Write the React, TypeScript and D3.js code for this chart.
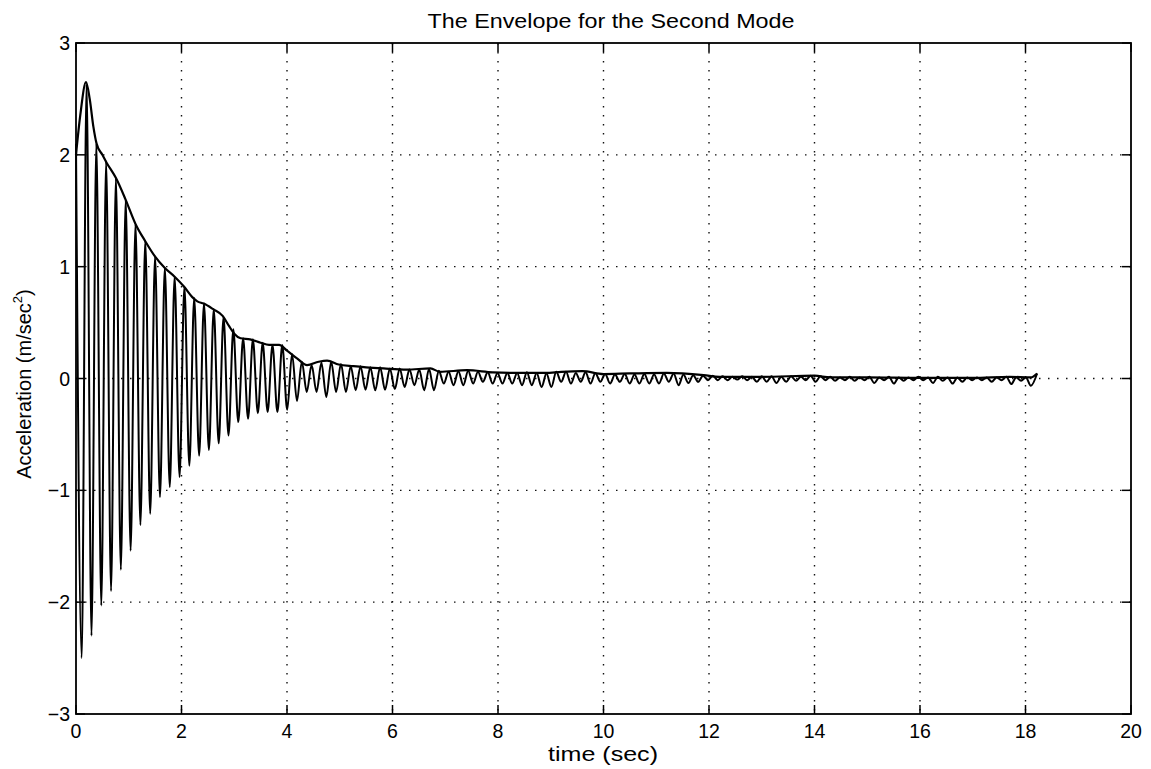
import React from 'react';
import * as d3 from 'd3';

// ---- data ----
const xTicks = [0, 2, 4, 6, 8, 10, 12, 14, 16, 18, 20];
const yTicks = [-3, -2, -1, 0, 1, 2, 3];

// sampled extrema of the oscillating response (uniform spacing in time)
const startPoint = [0, 2.1];
const firstTroughTime = 0.108;
const firstPeakTime = 0.2;
const cyclePeriod = 0.1855;
const endPoint = [18.22, 0.045];

const troughValues = [
  -2.5, -2.3, -2.03, -1.9, -1.71, -1.54, -1.31, -1.21, -1.06, -0.97,
  -0.88, -0.78, -0.69, -0.64, -0.58, -0.51, -0.39, -0.36, -0.31, -0.3,
  -0.3, -0.28, -0.2, -0.12, -0.12, -0.165, -0.12, -0.12, -0.105, -0.1,
  -0.105, -0.1, -0.095, -0.075, -0.06, -0.105, -0.105, -0.045, -0.06, -0.06,
  -0.045, -0.03, -0.045, -0.045, -0.045, -0.06, -0.06, -0.075, -0.075, -0.03,
  -0.045, -0.03, -0.045, -0.03, -0.045, -0.03, -0.045, -0.045, -0.045, -0.045,
  -0.03, -0.06, -0.04, -0.03, -0.015, -0.015, -0.015, -0.01, -0.015, -0.03,
  -0.03, -0.04, -0.03, -0.02, -0.015, -0.03, -0.015, -0.02, -0.015, -0.02,
  -0.015, -0.04, -0.015, -0.045, -0.02, -0.015, -0.015, -0.04, -0.02, -0.045,
  -0.03, -0.015, -0.015, -0.03, -0.015, -0.05, -0.02, -0.065,
];

const peakValues = [
  2.63, 2.1, 1.94, 1.79, 1.6, 1.38, 1.23, 1.09, 0.99, 0.91,
  0.82, 0.72, 0.67, 0.62, 0.55, 0.44, 0.36, 0.35, 0.32, 0.3,
  0.3, 0.22, 0.15, 0.12, 0.14, 0.15, 0.13, 0.11, 0.11, 0.1,
  0.1, 0.09, 0.09, 0.08, 0.08, 0.085, 0.07, 0.06, 0.065, 0.07,
  0.06, 0.055, 0.05, 0.05, 0.05, 0.055, 0.05, 0.045, 0.06, 0.06,
  0.05, 0.055, 0.05, 0.04, 0.035, 0.04, 0.035, 0.04, 0.035, 0.045,
  0.045, 0.035, 0.03, 0.025, 0.025, 0.02, 0.015, 0.02, 0.015, 0.02,
  0.02, 0.015, 0.02, 0.015, 0.025, 0.02, 0.015, 0.01, 0.015, 0.01,
  0.015, 0.01, 0.015, 0.01, 0.01, 0.015, 0.01, 0.015, 0.01, 0.01,
  0.01, 0.01, 0.01, 0.01, 0.015, 0.01, 0.01,
];

// upper envelope
const envelopeTimes = [
  0, 0.08, 0.19, 0.26, 0.33, 0.39, 0.5, 0.58, 0.76, 0.94,
  1.13, 1.31, 1.5, 1.68, 1.87, 2.05, 2.2, 2.3, 2.42, 2.6,
  2.78, 2.9, 3.0, 3.12, 3.3, 3.5, 3.66, 3.85, 4.0, 4.19,
  4.38, 4.6, 4.76, 4.98, 5.26, 5.5, 5.83, 6.27, 6.72, 6.9,
  7.41, 7.9, 8.3, 8.9, 9.2, 9.6, 10.0, 10.5, 11.2, 11.9,
  12.2, 13.0, 14.0, 14.3, 15.0, 16.0, 17.0, 17.7, 18.1, 18.22,
];
const envelopeValues = [
  2.0, 2.35, 2.65, 2.5, 2.25, 2.1, 2.0, 1.93, 1.79, 1.6,
  1.38, 1.23, 1.09, 0.99, 0.91, 0.82, 0.73, 0.69, 0.67, 0.62,
  0.56, 0.47, 0.4, 0.36, 0.35, 0.32, 0.3, 0.3, 0.25, 0.18,
  0.12, 0.15, 0.16, 0.125, 0.11, 0.1, 0.09, 0.08, 0.09, 0.06,
  0.074, 0.055, 0.05, 0.05, 0.06, 0.066, 0.04, 0.045, 0.05, 0.03,
  0.015, 0.015, 0.025, 0.01, 0.01, 0.005, 0.005, 0.015, 0.01, 0.045,
];

const W = 1151;
const H = 769;
const M = { left: 76, right: 1131, top: 43, bottom: 714 };
const FONT = '"Liberation Sans", Arial, Helvetica, sans-serif';

export default function App() {
  const x = d3.scaleLinear().domain([0, 20]).range([M.left, M.right]);
  const y = d3.scaleLinear().domain([-3, 3]).range([M.bottom, M.top]);

  const signal: [number, number][] = [[startPoint[0], startPoint[1]]];
  troughValues.forEach((tv, k) => {
    signal.push([firstTroughTime + k * cyclePeriod, tv]);
    if (k < peakValues.length) signal.push([firstPeakTime + k * cyclePeriod, peakValues[k]]);
  });
  signal.push([endPoint[0], endPoint[1]]);

  const envelope: [number, number][] = envelopeTimes.map((t, i) => [t, envelopeValues[i]]);

  const line = d3
    .line<[number, number]>()
    .x((d) => x(d[0]))
    .y((d) => y(d[1]))
    .curve(d3.curveMonotoneX);

  const tickLen = 9;
  const grid = { stroke: '#111', strokeWidth: 1.4, strokeDasharray: '1.5 7.5' };

  return (
    <svg
      width={W}
      height={H}
      style={{ display: 'block', background: '#fff', position: 'absolute', left: 0, top: 0 }}
    >
      {/* grid */}
      {xTicks.filter((t) => t > 0 && t < 20).map((t) => (
        <line key={'gx' + t} x1={x(t)} x2={x(t)} y1={M.top} y2={M.bottom} {...grid} />
      ))}
      {yTicks.filter((t) => t > -3 && t < 3).map((t) => (
        <line key={'gy' + t} x1={M.left} x2={M.right} y1={y(t)} y2={y(t)} {...grid} />
      ))}

      {/* data */}
      <path d={line(signal) || ''} fill="none" stroke="#000" strokeWidth={2} strokeLinejoin="round" />
      <path d={line(envelope) || ''} fill="none" stroke="#000" strokeWidth={2.2} strokeLinejoin="round" />

      {/* frame */}
      <rect x={M.left} y={M.top} width={M.right - M.left} height={M.bottom - M.top} fill="none" stroke="#000" strokeWidth={1.8} />

      {/* ticks */}
      {xTicks.map((t) => (
        <g key={'tx' + t}>
          <line x1={x(t)} x2={x(t)} y1={M.bottom} y2={M.bottom - tickLen} stroke="#000" strokeWidth={1.5} />
          <line x1={x(t)} x2={x(t)} y1={M.top} y2={M.top + tickLen} stroke="#000" strokeWidth={1.5} />
          <text x={x(t)} y={738} textAnchor="middle" fontFamily={FONT} fontSize={19.5} fill="#000">
            {t}
          </text>
        </g>
      ))}
      {yTicks.map((t) => (
        <g key={'ty' + t}>
          <line x1={M.left} x2={M.left + tickLen} y1={y(t)} y2={y(t)} stroke="#000" strokeWidth={1.5} />
          <line x1={M.right} x2={M.right - tickLen} y1={y(t)} y2={y(t)} stroke="#000" strokeWidth={1.5} />
          <text x={70} y={y(t) + 7} textAnchor="end" fontFamily={FONT} fontSize={19.5} fill="#000">
            {t < 0 ? '\u2212' + Math.abs(t) : String(t)}
          </text>
        </g>
      ))}

      {/* title & labels */}
      <text
        x={611}
        y={28}
        textAnchor="middle"
        fontFamily={FONT}
        fontSize={20.5}
        textLength={367}
        lengthAdjust="spacingAndGlyphs"
        fill="#000"
      >
        The Envelope for the Second Mode
      </text>
      <text
        x={603}
        y={761}
        textAnchor="middle"
        fontFamily={FONT}
        fontSize={20}
        textLength={110}
        lengthAdjust="spacingAndGlyphs"
        fill="#000"
      >
        time (sec)
      </text>
      <text
        transform={`translate(31, 384) rotate(-90)`}
        textAnchor="middle"
        fontFamily={FONT}
        fontSize={20}
        fill="#000"
      >
        Acceleration (m/sec
        <tspan fontSize={13} dy={-9}>2</tspan>
        <tspan dy={9}>)</tspan>
      </text>
    </svg>
  );
}
